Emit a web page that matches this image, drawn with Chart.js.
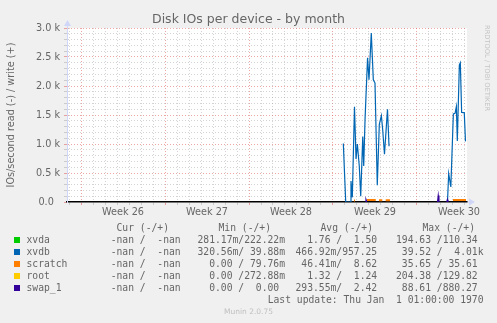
<!DOCTYPE html>
<html><head><meta charset="utf-8">
<script src="https://cdn.jsdelivr.net/npm/chart.js@4/dist/chart.umd.min.js"></script>
<style>
html,body{margin:0;padding:0;background:#f0f0f0;}
#wrap{position:relative;width:497px;height:323px;overflow:hidden;background:#f0f0f0;}
#c{position:absolute;left:0;top:0;}
.tx{position:absolute;white-space:pre;font-family:"DejaVu Sans Mono",monospace;font-size:9.7px;line-height:12px;color:#666;}
.sq{position:absolute;width:6px;height:6px;}
#title{position:absolute;left:0;width:497px;top:10.5px;text-align:center;font-family:"DejaVu Sans",sans-serif;font-size:12.5px;line-height:15px;color:#666;white-space:pre;}
#wm{position:absolute;left:483px;top:25px;writing-mode:vertical-rl;font-family:"DejaVu Sans",sans-serif;font-size:6.7px;line-height:8px;color:#c4c4c4;white-space:pre;}
#munin{position:absolute;left:0;width:497px;top:306.5px;text-align:center;font-family:"DejaVu Sans",sans-serif;font-size:7.5px;line-height:10px;color:#c0c0c0;}
</style>
</head><body>
<div id="wrap">
<canvas id="c" width="497" height="323"></canvas>
<div id="title">Disk IOs per device - by month</div>
<div id="wm">RRDTOOL / TOBI OETIKER</div>
<div id="munin">Munin 2.0.75</div>
</div>
<script>
// ---------- data ----------
const devices = ['xvda', 'xvdb', 'scratch', 'root', 'swap_1'];
const deviceColors = ['#00CC00', '#0066B3', '#FF8000', '#FFCC00', '#330099'];

// time in days since start of Week 26
const xvdbDays  = [21.86,22.06,22.42,22.50,22.61,22.79,22.92,23.03,23.19,23.31,23.48,23.56,23.67,23.88,24.00,24.19,24.36,24.50,24.69,24.86,25.03,25.14,25.29,25.54,25.67, 28.00, 30.54,30.64,30.82,31.03,31.17,31.28,31.36,31.53,31.61,31.72,31.94,32.04];
const xvdbWrite = [1010,0,0,360,80,1640,740,1000,620,100,1130,620,1420,2485,2108,2914,2108,2050,290,1340,1490,1250,823,1600,960, null, 0,490,260,1520,1530,1645,1050,2365,2400,1543,1540,1045];

const scratchDays  = [22.75,22.83,23.30, 23.81,24.56,24.70, 24.83,25.11,25.25, 25.39,25.75,28.00, 31.00,32.08];
const scratchWrite = [25,25,null, 35,35,null, 30,30,null, 30,30,null, 35,35];

const swapDays  = [23.71,23.75,23.81,27.00, 29.71,29.77,29.83,30.20, 30.48,30.53,30.58];
const swapWrite = [0,40,0,null, 0,110,0,null, 0,40,0];

const xvdaDays = [], xvdaWrite = [];
const rootDays = [], rootWrite = [];

// axis ticks
const dayTicks = [-1,0,1,2,3,4,5,6,7,8,9,10,11,12,13,14,15,16,17,18,19,20,21,22,23,24,25,26,27,28,29,30,31,32];
const weekLabelDays = [3.5, 10.5, 17.5, 24.5, 31.5];
const weekLabels = ['Week 26', 'Week 27', 'Week 28', 'Week 29', 'Week 30'];
const yTickValues = [];
for (let v = 0; v <= 3000; v += 100) yTickValues.push(v);
const yMajorValues = [0, 500, 1000, 1500, 2000, 2500, 3000];
const yMajorLabels = ['0.0  ', '0.5 k', '1.0 k', '1.5 k', '2.0 k', '2.5 k', '3.0 k'];

// legend table
const curCol = ['-nan /  -nan', '-nan /  -nan', '-nan /  -nan', '-nan /  -nan', '-nan /  -nan'];
const minCol = ['281.17m/222.22m', '320.56m/ 39.88m', '0.00 / 79.76m', '0.00 /272.88m', '0.00 /  0.00 '];
const avgCol = ['1.76 /  1.50 ', '466.92m/957.25 ', '46.41m/  8.62 ', '1.32 /  1.24 ', '293.55m/  2.42 '];
const maxCol = ['194.63 /110.34 ', '39.52 /  4.01k', '35.65 / 35.61 ', '204.38 /129.82 ', '88.61 /880.27 '];
const headers = ['Cur (-/+)', 'Min (-/+)', 'Avg (-/+)', 'Max (-/+)'];
const lastUpdate = 'Last update: Thu Jan  1 01:00:00 1970';

// ---------- legend html ----------
const wrap = document.getElementById('wrap');
function addText(str, left, right, center) {
  const d = document.createElement('div');
  d.className = 'tx';
  d.textContent = str;
  d.style.top = (center - 5.9) + 'px';
  if (left != null) d.style.left = left + 'px';
  else { d.style.right = (497 - right) + 'px'; d.style.textAlign = 'right'; }
  wrap.appendChild(d);
}
const headerLeft = [116.5, 218.5, 320.5, 422.5];
headers.forEach((h, i) => addText(h, headerLeft[i], null, 228));
devices.forEach((name, i) => {
  const cy = 240 + i * 12;
  const sq = document.createElement('div');
  sq.className = 'sq';
  sq.style.left = '14px';
  sq.style.top = (cy - 3) + 'px';
  sq.style.background = deviceColors[i];
  wrap.appendChild(sq);
  addText(name, 26.5, null, cy);
  addText(curCol[i], 110.7, null, cy);
  addText(minCol[i], null, 285, cy);
  addText(avgCol[i], null, 383, cy);
  addText(maxCol[i], null, 483.5, cy);
});
addText(lastUpdate, null, 483.5, 300);

// ---------- chart ----------
function pts(days, vals) { return days.map((d, i) => ({x: d, y: vals[i]})); }
const series = [
  {days: xvdaDays, vals: xvdaWrite},
  {days: xvdbDays, vals: xvdbWrite},
  {days: scratchDays, vals: scratchWrite},
  {days: rootDays, vals: rootWrite},
  {days: swapDays, vals: swapWrite}
];
const datasets = devices.map((name, i) => ({
  label: name,
  data: pts(series[i].days, series[i].vals),
  borderColor: deviceColors[i],
  backgroundColor: deviceColors[i],
  borderWidth: i === 2 ? 2 : 1.2,
  pointRadius: 0,
  tension: 0,
  spanGaps: false,
  order: 5 - i
}));

const RED = 'rgba(222,79,79,0.5)';
const GRAY = 'rgba(143,143,143,0.38)';
const NONE = 'rgba(0,0,0,0)';

const bgPlugin = {
  id: 'canvasBg',
  beforeDraw(chart) {
    const {ctx, chartArea: a} = chart;
    ctx.save();
    ctx.fillStyle = '#ffffff';
    ctx.fillRect(a.left, a.top, a.right - a.left, a.bottom - a.top);
    ctx.restore();
  }
};
const arrowPlugin = {
  id: 'arrows',
  afterDraw(chart) {
    const {ctx, chartArea: a} = chart;
    ctx.save();
    ctx.strokeStyle = '#CFD6F8';
    ctx.fillStyle = '#CFD6F8';
    ctx.lineWidth = 1;
    ctx.beginPath();
    ctx.moveTo(a.left + 0.5, a.top);
    ctx.lineTo(a.left + 0.5, a.top - 3);
    ctx.stroke();
    ctx.beginPath();
    ctx.moveTo(a.left - 3, a.top - 2);
    ctx.lineTo(a.left + 4, a.top - 2);
    ctx.lineTo(a.left + 0.5, a.top - 8);
    ctx.closePath();
    ctx.fill();
    ctx.beginPath();
    ctx.moveTo(a.right, a.bottom);
    ctx.lineTo(a.right + 2, a.bottom);
    ctx.stroke();
    ctx.beginPath();
    ctx.moveTo(a.right + 2, a.bottom - 3.5);
    ctx.lineTo(a.right + 2, a.bottom + 3.5);
    ctx.lineTo(a.right + 8, a.bottom);
    ctx.closePath();
    ctx.fill();
    ctx.restore();
  }
};

const fontAxis = {family: 'DejaVu Sans', size: 9.7};

new Chart(document.getElementById('c'), {
  type: 'line',
  data: {datasets},
  plugins: [bgPlugin, arrowPlugin],
  options: {
    responsive: false,
    animation: false,
    devicePixelRatio: 1,
    layout: {padding: {left: 0, top: 28, right: 30, bottom: 0}},
    plugins: {legend: {display: false}, tooltip: {enabled: false}, title: {display: false}},
    scales: {
      x: {
        type: 'linear',
        min: -1.1667,
        max: 32.1667,
        afterBuildTicks: s => {
          const all = dayTicks.concat(weekLabelDays).sort((a, b) => a - b);
          s.ticks = all.map(v => ({value: v}));
        },
        afterFit: s => { s.height = 121; },
        grid: {
          color: c => {
            const v = c.tick ? c.tick.value : 0;
            if (!Number.isInteger(v)) return NONE;
            return v % 7 === 0 ? RED : GRAY;
          },
          tickColor: c => {
            const v = c.tick ? c.tick.value : 0;
            if (!Number.isInteger(v)) return NONE;
            return v % 7 === 0 ? RED : GRAY;
          },
          lineWidth: 1,
          drawTicks: true,
          tickLength: 3
        },
        border: {display: true, color: '#000000', width: 1.5, dash: [1, 2]},
        ticks: {
          autoSkip: false, maxRotation: 0, minRotation: 0, padding: 2,
          color: '#666', font: fontAxis,
          callback: v => {
            const k = weekLabelDays.indexOf(v);
            return k >= 0 ? weekLabels[k] : '';
          }
        }
      },
      y: {
        type: 'linear',
        min: 0,
        max: 3000,
        afterBuildTicks: s => { s.ticks = yTickValues.map(v => ({value: v})); },
        afterFit: s => { s.width = 67; },
        grid: {
          color: c => {
            const v = c.tick ? c.tick.value : 0;
            if (v === 0) return NONE;
            return v % 500 === 0 ? RED : GRAY;
          },
          tickColor: c => {
            const v = c.tick ? c.tick.value : 0;
            return v % 500 === 0 ? RED : GRAY;
          },
          lineWidth: 1,
          drawTicks: true,
          tickLength: 3
        },
        border: {display: true, color: '#CFD6F8', width: 1, dash: [1, 2]},
        ticks: {
          autoSkip: false, padding: 4, color: '#666', font: fontAxis,
          callback: v => {
            const k = yMajorValues.indexOf(v);
            return k >= 0 ? yMajorLabels[k] : '';
          }
        },
        title: {
          display: true,
          text: 'IOs/second read (-) / write (+)',
          color: '#666',
          font: fontAxis,
          padding: {top: 6, bottom: 0}
        }
      }
    }
  }
});
</script>
</body></html>
